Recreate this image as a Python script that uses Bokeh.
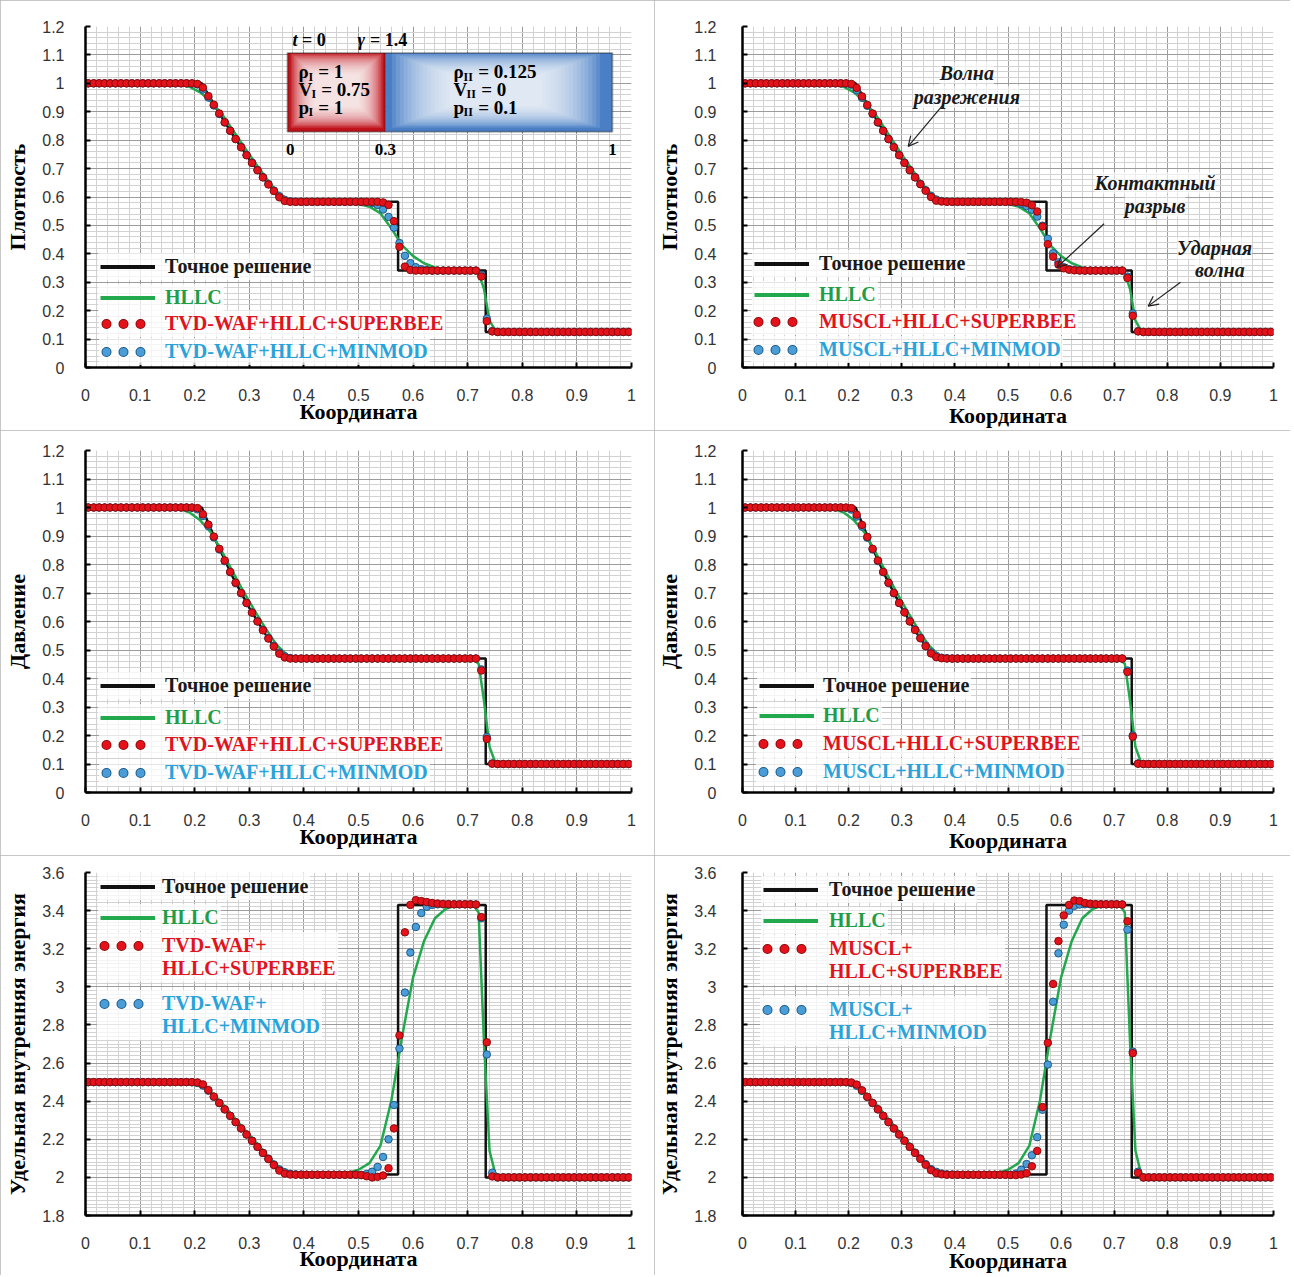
from bokeh.plotting import figure
from bokeh.layouts import column, row
from bokeh.models import (FixedTicker, Legend, LegendItem, Label, Arrow, OpenHead,
                          BoxAnnotation, Range1d)
from bokeh.embed import file_html
from bokeh.resources import INLINE

# ------------------------------------------------------------------ data
X_CELLS = [
    0.005, 0.015, 0.025, 0.035, 0.045, 0.055, 0.065, 0.075, 0.085, 0.095,
    0.105, 0.115, 0.125, 0.135, 0.145, 0.155, 0.165, 0.175, 0.185, 0.195,
    0.205, 0.215, 0.225, 0.235, 0.245, 0.255, 0.265, 0.275, 0.285, 0.295,
    0.305, 0.315, 0.325, 0.335, 0.345, 0.355, 0.365, 0.375, 0.385, 0.395,
    0.405, 0.415, 0.425, 0.435, 0.445, 0.455, 0.465, 0.475, 0.485, 0.495,
    0.505, 0.515, 0.525, 0.535, 0.545, 0.555, 0.565, 0.575, 0.585, 0.595,
    0.605, 0.615, 0.625, 0.635, 0.645, 0.655, 0.665, 0.675, 0.685, 0.695,
    0.705, 0.715, 0.725, 0.735, 0.745, 0.755, 0.765, 0.775, 0.785, 0.795,
    0.805, 0.815, 0.825, 0.835, 0.845, 0.855, 0.865, 0.875, 0.885, 0.895,
    0.905, 0.915, 0.925, 0.935, 0.945, 0.955, 0.965, 0.975, 0.985, 0.995]

EXACT_X = [0.0, 0.213, 0.24, 0.27, 0.30, 0.33, 0.361, 0.5725, 0.5725, 0.733, 0.733, 1.0]
RHO_EXACT = [1.0, 1.0, 0.910, 0.818, 0.733, 0.656, 0.583, 0.583, 0.341, 0.341, 0.125, 0.125]
P_EXACT = [1.0, 1.0, 0.877, 0.755, 0.648, 0.554, 0.470, 0.470, 0.470, 0.470, 0.100, 0.100]
E_EXACT = [2.5, 2.5, 2.408, 2.307, 2.208, 2.112, 2.015, 2.015, 3.430, 3.430, 2.000, 2.000]

HLLC_X = [0.0, 0.15, 0.17, 0.19, 0.21, 0.23, 0.25, 0.27, 0.29, 0.31, 0.33, 0.35,
          0.37, 0.39, 0.41, 0.46, 0.48, 0.50, 0.52, 0.54, 0.56, 0.58, 0.60, 0.62,
          0.64, 0.66, 0.68, 0.70, 0.71, 0.72, 0.73, 0.74, 0.75, 0.76, 1.0]
RHO_HLLC = [1.0, 1.0, 0.997, 0.988, 0.968, 0.935, 0.892, 0.835, 0.778, 0.722, 0.669, 0.619,
            0.593, 0.585, 0.583, 0.583, 0.581, 0.575, 0.566, 0.543, 0.490, 0.430, 0.392, 0.367,
            0.352, 0.345, 0.342, 0.341, 0.340, 0.333, 0.275, 0.165, 0.132, 0.126, 0.125]
P_HLLC = [1.0, 1.0, 0.996, 0.983, 0.955, 0.912, 0.845, 0.773, 0.703, 0.637, 0.575, 0.518,
          0.482, 0.473, 0.471, 0.470, 0.470, 0.470, 0.470, 0.470, 0.470, 0.470, 0.470, 0.470,
          0.470, 0.470, 0.470, 0.470, 0.468, 0.452, 0.320, 0.160, 0.108, 0.101, 0.100]
E_HLLC = [2.5, 2.5, 2.498, 2.492, 2.478, 2.447, 2.390, 2.322, 2.256, 2.190, 2.125, 2.065,
          2.032, 2.018, 2.015, 2.016, 2.022, 2.040, 2.075, 2.165, 2.400, 2.740, 3.050, 3.240,
          3.360, 3.410, 3.428, 3.433, 3.433, 3.390, 2.700, 2.140, 2.025, 2.003, 2.000]

# density, TVD-WAF
RHO_WAF_SB = [
    1.0, 1.0, 1.0, 1.0, 1.0, 1.0, 1.0, 1.0, 1.0, 1.0,
    1.0, 1.0, 1.0, 1.0, 1.0, 1.0, 1.0, 1.0, 1.0, 1.0,
    0.998, 0.985, 0.955, 0.925, 0.894, 0.863, 0.833, 0.804, 0.775, 0.747,
    0.720, 0.694, 0.669, 0.644, 0.621, 0.599, 0.586, 0.583, 0.583, 0.583,
    0.583, 0.583, 0.583, 0.583, 0.583, 0.583, 0.583, 0.583, 0.583, 0.583,
    0.583, 0.583, 0.583, 0.583, 0.581, 0.572, 0.515, 0.425, 0.355, 0.343,
    0.341, 0.341, 0.341, 0.341, 0.341, 0.341, 0.341, 0.341, 0.341, 0.341,
    0.341, 0.341, 0.320, 0.163, 0.127, 0.125, 0.125, 0.125, 0.125, 0.125,
    0.125, 0.125, 0.125, 0.125, 0.125, 0.125, 0.125, 0.125, 0.125, 0.125,
    0.125, 0.125, 0.125, 0.125, 0.125, 0.125, 0.125, 0.125, 0.125, 0.125]
RHO_WAF_MM = [
    1.0, 1.0, 1.0, 1.0, 1.0, 1.0, 1.0, 1.0, 1.0, 1.0,
    1.0, 1.0, 1.0, 1.0, 1.0, 1.0, 1.0, 1.0, 1.0, 0.999,
    0.996, 0.978, 0.950, 0.922, 0.892, 0.862, 0.833, 0.804, 0.776, 0.748,
    0.721, 0.695, 0.670, 0.646, 0.623, 0.603, 0.590, 0.585, 0.583, 0.583,
    0.583, 0.583, 0.583, 0.583, 0.583, 0.583, 0.583, 0.583, 0.583, 0.583,
    0.583, 0.582, 0.579, 0.572, 0.556, 0.530, 0.492, 0.438, 0.393, 0.367,
    0.353, 0.346, 0.343, 0.341, 0.341, 0.341, 0.341, 0.341, 0.341, 0.341,
    0.341, 0.341, 0.325, 0.172, 0.128, 0.125, 0.125, 0.125, 0.125, 0.125,
    0.125, 0.125, 0.125, 0.125, 0.125, 0.125, 0.125, 0.125, 0.125, 0.125,
    0.125, 0.125, 0.125, 0.125, 0.125, 0.125, 0.125, 0.125, 0.125, 0.125]
# density, MUSCL
RHO_MU_SB = [
    1.0, 1.0, 1.0, 1.0, 1.0, 1.0, 1.0, 1.0, 1.0, 1.0,
    1.0, 1.0, 1.0, 1.0, 1.0, 1.0, 1.0, 1.0, 1.0, 1.0,
    0.998, 0.984, 0.954, 0.924, 0.894, 0.863, 0.833, 0.804, 0.775, 0.747,
    0.720, 0.694, 0.669, 0.645, 0.622, 0.600, 0.587, 0.584, 0.583, 0.583,
    0.583, 0.583, 0.583, 0.583, 0.583, 0.583, 0.583, 0.583, 0.583, 0.583,
    0.583, 0.583, 0.582, 0.580, 0.571, 0.549, 0.496, 0.434, 0.390, 0.362,
    0.349, 0.344, 0.342, 0.341, 0.341, 0.341, 0.341, 0.341, 0.341, 0.341,
    0.341, 0.341, 0.315, 0.182, 0.127, 0.125, 0.125, 0.125, 0.125, 0.125,
    0.125, 0.125, 0.125, 0.125, 0.125, 0.125, 0.125, 0.125, 0.125, 0.125,
    0.125, 0.125, 0.125, 0.125, 0.125, 0.125, 0.125, 0.125, 0.125, 0.125]
RHO_MU_MM = [
    1.0, 1.0, 1.0, 1.0, 1.0, 1.0, 1.0, 1.0, 1.0, 1.0,
    1.0, 1.0, 1.0, 1.0, 1.0, 1.0, 1.0, 1.0, 1.0, 0.999,
    0.995, 0.976, 0.949, 0.921, 0.892, 0.862, 0.833, 0.804, 0.776, 0.748,
    0.721, 0.695, 0.670, 0.646, 0.624, 0.604, 0.591, 0.586, 0.584, 0.583,
    0.583, 0.583, 0.583, 0.583, 0.583, 0.583, 0.583, 0.583, 0.583, 0.583,
    0.583, 0.582, 0.576, 0.568, 0.555, 0.531, 0.499, 0.453, 0.402, 0.370,
    0.353, 0.346, 0.343, 0.342, 0.341, 0.341, 0.341, 0.341, 0.341, 0.341,
    0.341, 0.341, 0.320, 0.190, 0.128, 0.125, 0.125, 0.125, 0.125, 0.125,
    0.125, 0.125, 0.125, 0.125, 0.125, 0.125, 0.125, 0.125, 0.125, 0.125,
    0.125, 0.125, 0.125, 0.125, 0.125, 0.125, 0.125, 0.125, 0.125, 0.125]

# pressure, TVD-WAF
P_WAF_SB = [
    1.0, 1.0, 1.0, 1.0, 1.0, 1.0, 1.0, 1.0, 1.0, 1.0,
    1.0, 1.0, 1.0, 1.0, 1.0, 1.0, 1.0, 1.0, 1.0, 1.0,
    0.998, 0.976, 0.940, 0.898, 0.855, 0.814, 0.774, 0.736, 0.700, 0.665,
    0.631, 0.600, 0.569, 0.540, 0.512, 0.487, 0.474, 0.470, 0.470, 0.470,
    0.470, 0.470, 0.470, 0.470, 0.470, 0.470, 0.470, 0.470, 0.470, 0.470,
    0.470, 0.470, 0.470, 0.470, 0.470, 0.470, 0.470, 0.470, 0.470, 0.470,
    0.470, 0.470, 0.470, 0.470, 0.470, 0.470, 0.470, 0.470, 0.470, 0.470,
    0.470, 0.470, 0.428, 0.188, 0.101, 0.100, 0.100, 0.100, 0.100, 0.100,
    0.100, 0.100, 0.100, 0.100, 0.100, 0.100, 0.100, 0.100, 0.100, 0.100,
    0.100, 0.100, 0.100, 0.100, 0.100, 0.100, 0.100, 0.100, 0.100, 0.100]
P_WAF_MM = [
    1.0, 1.0, 1.0, 1.0, 1.0, 1.0, 1.0, 1.0, 1.0, 1.0,
    1.0, 1.0, 1.0, 1.0, 1.0, 1.0, 1.0, 1.0, 1.0, 0.999,
    0.994, 0.970, 0.935, 0.895, 0.853, 0.812, 0.773, 0.735, 0.699, 0.665,
    0.632, 0.601, 0.571, 0.542, 0.515, 0.491, 0.478, 0.472, 0.470, 0.470,
    0.470, 0.470, 0.470, 0.470, 0.470, 0.470, 0.470, 0.470, 0.470, 0.470,
    0.470, 0.470, 0.470, 0.470, 0.470, 0.470, 0.470, 0.470, 0.470, 0.470,
    0.470, 0.470, 0.470, 0.470, 0.470, 0.470, 0.470, 0.470, 0.470, 0.470,
    0.470, 0.470, 0.432, 0.195, 0.102, 0.100, 0.100, 0.100, 0.100, 0.100,
    0.100, 0.100, 0.100, 0.100, 0.100, 0.100, 0.100, 0.100, 0.100, 0.100,
    0.100, 0.100, 0.100, 0.100, 0.100, 0.100, 0.100, 0.100, 0.100, 0.100]
# pressure, MUSCL
P_MU_SB = [
    1.0, 1.0, 1.0, 1.0, 1.0, 1.0, 1.0, 1.0, 1.0, 1.0,
    1.0, 1.0, 1.0, 1.0, 1.0, 1.0, 1.0, 1.0, 1.0, 1.0,
    0.998, 0.975, 0.939, 0.897, 0.855, 0.814, 0.774, 0.736, 0.700, 0.665,
    0.632, 0.600, 0.570, 0.541, 0.513, 0.488, 0.475, 0.471, 0.470, 0.470,
    0.470, 0.470, 0.470, 0.470, 0.470, 0.470, 0.470, 0.470, 0.470, 0.470,
    0.470, 0.470, 0.470, 0.470, 0.470, 0.470, 0.470, 0.470, 0.470, 0.470,
    0.470, 0.470, 0.470, 0.470, 0.470, 0.470, 0.470, 0.470, 0.470, 0.470,
    0.470, 0.470, 0.423, 0.196, 0.101, 0.100, 0.100, 0.100, 0.100, 0.100,
    0.100, 0.100, 0.100, 0.100, 0.100, 0.100, 0.100, 0.100, 0.100, 0.100,
    0.100, 0.100, 0.100, 0.100, 0.100, 0.100, 0.100, 0.100, 0.100, 0.100]
P_MU_MM = [
    1.0, 1.0, 1.0, 1.0, 1.0, 1.0, 1.0, 1.0, 1.0, 1.0,
    1.0, 1.0, 1.0, 1.0, 1.0, 1.0, 1.0, 1.0, 1.0, 0.999,
    0.993, 0.968, 0.933, 0.894, 0.853, 0.812, 0.773, 0.735, 0.699, 0.665,
    0.633, 0.602, 0.572, 0.543, 0.516, 0.492, 0.479, 0.473, 0.471, 0.470,
    0.470, 0.470, 0.470, 0.470, 0.470, 0.470, 0.470, 0.470, 0.470, 0.470,
    0.470, 0.470, 0.470, 0.470, 0.470, 0.470, 0.470, 0.470, 0.470, 0.470,
    0.470, 0.470, 0.470, 0.470, 0.470, 0.470, 0.470, 0.470, 0.470, 0.470,
    0.470, 0.470, 0.428, 0.200, 0.102, 0.100, 0.100, 0.100, 0.100, 0.100,
    0.100, 0.100, 0.100, 0.100, 0.100, 0.100, 0.100, 0.100, 0.100, 0.100,
    0.100, 0.100, 0.100, 0.100, 0.100, 0.100, 0.100, 0.100, 0.100, 0.100]

# specific internal energy, TVD-WAF
E_WAF_SB = [
    2.5, 2.5, 2.5, 2.5, 2.5, 2.5, 2.5, 2.5, 2.5, 2.5,
    2.5, 2.5, 2.5, 2.5, 2.5, 2.5, 2.5, 2.5, 2.5, 2.5,
    2.498, 2.488, 2.458, 2.424, 2.391, 2.357, 2.323, 2.290, 2.257, 2.225,
    2.192, 2.160, 2.128, 2.096, 2.065, 2.036, 2.020, 2.015, 2.014, 2.014,
    2.014, 2.014, 2.014, 2.014, 2.014, 2.014, 2.014, 2.014, 2.014, 2.014,
    2.012, 2.006, 2.000, 2.003, 2.010, 2.048, 2.257, 2.745, 3.286, 3.430,
    3.455, 3.450, 3.445, 3.440, 3.437, 3.435, 3.434, 3.433, 3.433, 3.433,
    3.433, 3.432, 3.366, 2.709, 2.005, 2.000, 2.000, 2.000, 2.000, 2.000,
    2.000, 2.000, 2.000, 2.000, 2.000, 2.000, 2.000, 2.000, 2.000, 2.000,
    2.000, 2.000, 2.000, 2.000, 2.000, 2.000, 2.000, 2.000, 2.000, 2.000]
E_WAF_MM = [
    2.5, 2.5, 2.5, 2.5, 2.5, 2.5, 2.5, 2.5, 2.5, 2.5,
    2.5, 2.5, 2.5, 2.5, 2.5, 2.5, 2.5, 2.5, 2.5, 2.499,
    2.496, 2.482, 2.455, 2.423, 2.390, 2.357, 2.323, 2.290, 2.257, 2.225,
    2.193, 2.161, 2.129, 2.098, 2.068, 2.042, 2.027, 2.019, 2.016, 2.015,
    2.014, 2.014, 2.014, 2.014, 2.014, 2.014, 2.014, 2.014, 2.014, 2.014,
    2.013, 2.018, 2.030, 2.055, 2.107, 2.200, 2.380, 2.676, 2.970, 3.180,
    3.314, 3.387, 3.420, 3.430, 3.433, 3.433, 3.433, 3.433, 3.433, 3.433,
    3.433, 3.432, 3.360, 2.645, 2.025, 2.000, 2.000, 2.000, 2.000, 2.000,
    2.000, 2.000, 2.000, 2.000, 2.000, 2.000, 2.000, 2.000, 2.000, 2.000,
    2.000, 2.000, 2.000, 2.000, 2.000, 2.000, 2.000, 2.000, 2.000, 2.000]
# specific internal energy, MUSCL
E_MU_SB = [
    2.5, 2.5, 2.5, 2.5, 2.5, 2.5, 2.5, 2.5, 2.5, 2.5,
    2.5, 2.5, 2.5, 2.5, 2.5, 2.5, 2.5, 2.5, 2.5, 2.5,
    2.498, 2.487, 2.457, 2.423, 2.391, 2.357, 2.323, 2.290, 2.257, 2.225,
    2.192, 2.160, 2.128, 2.097, 2.066, 2.038, 2.022, 2.016, 2.014, 2.014,
    2.014, 2.014, 2.014, 2.014, 2.014, 2.014, 2.014, 2.014, 2.014, 2.014,
    2.013, 2.012, 2.015, 2.022, 2.058, 2.139, 2.369, 2.706, 3.015, 3.240,
    3.375, 3.430, 3.453, 3.450, 3.440, 3.436, 3.434, 3.433, 3.433, 3.433,
    3.433, 3.432, 3.344, 2.652, 2.023, 2.000, 2.000, 2.000, 2.000, 2.000,
    2.000, 2.000, 2.000, 2.000, 2.000, 2.000, 2.000, 2.000, 2.000, 2.000,
    2.000, 2.000, 2.000, 2.000, 2.000, 2.000, 2.000, 2.000, 2.000, 2.000]
E_MU_MM = [
    2.5, 2.5, 2.5, 2.5, 2.5, 2.5, 2.5, 2.5, 2.5, 2.5,
    2.5, 2.5, 2.5, 2.5, 2.5, 2.5, 2.5, 2.5, 2.5, 2.499,
    2.495, 2.481, 2.454, 2.422, 2.390, 2.357, 2.323, 2.290, 2.257, 2.225,
    2.193, 2.161, 2.130, 2.099, 2.070, 2.044, 2.029, 2.020, 2.016, 2.015,
    2.014, 2.014, 2.014, 2.014, 2.014, 2.014, 2.014, 2.014, 2.014, 2.014,
    2.014, 2.020, 2.040, 2.070, 2.116, 2.211, 2.355, 2.592, 2.922, 3.176,
    3.326, 3.400, 3.425, 3.432, 3.433, 3.433, 3.433, 3.433, 3.433, 3.433,
    3.433, 3.432, 3.300, 2.660, 2.030, 2.000, 2.000, 2.000, 2.000, 2.000,
    2.000, 2.000, 2.000, 2.000, 2.000, 2.000, 2.000, 2.000, 2.000, 2.000,
    2.000, 2.000, 2.000, 2.000, 2.000, 2.000, 2.000, 2.000, 2.000, 2.000]

X_TICKS = [0.0, 0.1, 0.2, 0.3, 0.4, 0.5, 0.6, 0.7, 0.8, 0.9, 1.0]
X_TICK_LABELS = ["0", "0.1", "0.2", "0.3", "0.4", "0.5", "0.6", "0.7", "0.8", "0.9", "1"]
Y_TICKS_A = [0.0, 0.1, 0.2, 0.3, 0.4, 0.5, 0.6, 0.7, 0.8, 0.9, 1.0, 1.1, 1.2]
Y_TICK_LABELS_A = ["0", "0.1", "0.2", "0.3", "0.4", "0.5", "0.6", "0.7", "0.8", "0.9",
                   "1", "1.1", "1.2"]
Y_TICKS_E = [1.8, 2.0, 2.2, 2.4, 2.6, 2.8, 3.0, 3.2, 3.4, 3.6]
Y_TICK_LABELS_E = ["1.8", "2", "2.2", "2.4", "2.6", "2.8", "3", "3.2", "3.4", "3.6"]

X_LABEL = "Координата"
Y_LABELS = ["Плотность", "Давление", "Удельная внутренняя энергия"]
LEG_EXACT = "Точное решение"
LEG_HLLC = "HLLC"

# ------------------------------------------------------------------ style
SERIF = "Liberation Serif"
SANS = "Liberation Sans"
C_EXACT = "#111111"
C_HLLC = "#22a84d"
C_RED = "#e5121b"
C_RED_EDGE = "#8c0a0a"
C_BLUE = "#4a9dd6"
C_BLUE_EDGE = "#1c5a8c"
T_BLACK = "#1a1a1a"
T_GREEN = "#1f9e47"
T_RED = "#e0141e"
T_BLUE = "#2aa2da"
NAN = float("nan")
NB = "\u00a0"


def grid_steps(lo, hi, step):
    n = int(round((hi - lo) / step))
    return [round(lo + i * step, 4) for i in range(n + 1)]


def make_panel(w, h, bl, br, bt, bb, yr, yticks, ylabels, ystep, ylabel,
               ex, hl, sb, mm, ytick_standoff, xlabel_standoff):
    p = figure(width=w, height=h, x_range=Range1d(0, 1), y_range=Range1d(*yr),
               output_backend="svg", toolbar_location=None,
               min_border_left=bl, min_border_right=br,
               min_border_top=bt, min_border_bottom=bb,
               background_fill_color="white", border_fill_color="white",
               styles={"outline": "1px solid #b5b5b5", "outline-offset": "-1px"})
    p.outline_line_color = None
    p.xaxis.ticker = FixedTicker(ticks=X_TICKS, minor_ticks=grid_steps(0, 1, 0.02))
    p.yaxis.ticker = FixedTicker(ticks=yticks, minor_ticks=grid_steps(yr[0], yr[1], ystep))
    p.xaxis.major_label_overrides = {t: l for t, l in zip(X_TICKS, X_TICK_LABELS)}
    p.yaxis.major_label_overrides = {t: l for t, l in zip(yticks, ylabels)}
    for ax in (p.xaxis[0], p.yaxis[0]):
        ax.axis_line_width = 2.5
        ax.axis_line_color = "black"
        ax.major_tick_in = 5
        ax.major_tick_out = 0
        ax.major_tick_line_width = 2
        ax.major_tick_line_color = "black"
        ax.minor_tick_line_color = None
        ax.major_label_text_font = SANS
        ax.major_label_text_font_size = "16px"
        ax.major_label_text_color = "#333333"
        ax.axis_label_text_font = SERIF
        ax.axis_label_text_font_style = "bold"
        ax.axis_label_text_font_size = "22px"
        ax.axis_label_text_color = "black"
    p.xaxis.axis_label = X_LABEL
    p.yaxis.axis_label = ylabel
    p.xaxis.major_label_standoff = 17
    p.xaxis.axis_label_standoff = xlabel_standoff
    p.yaxis.major_label_standoff = ytick_standoff
    p.yaxis.axis_label_standoff = 9
    for g in (p.xgrid[0], p.ygrid[0]):
        g.grid_line_color = "#9c9c9c"
        g.grid_line_width = 1
        g.minor_grid_line_color = "#d2d2d2"
        g.minor_grid_line_width = 1

    p.line(EXACT_X, ex, line_color=C_EXACT, line_width=2.5)
    p.line(HLLC_X, hl, line_color=C_HLLC, line_width=2.5)
    p.scatter(X_CELLS, mm, size=7.5, fill_color=C_BLUE, line_color=C_BLUE_EDGE, line_width=1)
    p.scatter(X_CELLS, sb, size=7.5, fill_color=C_RED, line_color=C_RED_EDGE, line_width=1)
    return p


def proxy(p, **kw):
    # legend-only renderer: a single NaN point, never drawn in the plot area
    return p.line([NAN], [NAN], **kw)


def add_legend(p, fl, fb, gx, gy, labels, color, kind, label_x):
    """gx: start of line glyph / centre of first dot; gy: item centre; label_x: text start"""
    dots = dict(line_dash="0 17", line_dash_offset=12, line_cap="round")
    if kind == "exact":
        rs = [proxy(p, line_color=C_EXACT, line_width=4)]
        gw, g0 = 55, gx
    elif kind == "hllc":
        rs = [proxy(p, line_color=C_HLLC, line_width=4)]
        gw, g0 = 55, gx
    elif kind == "sb":
        rs = [proxy(p, line_color=C_RED_EDGE, line_width=10, **dots),
              proxy(p, line_color=C_RED, line_width=8, **dots)]
        gw, g0 = 45, gx - 5
    else:
        rs = [proxy(p, line_color=C_BLUE_EDGE, line_width=10, **dots),
              proxy(p, line_color=C_BLUE, line_width=8, **dots)]
        gw, g0 = 45, gx - 5
    items = [LegendItem(label=labels[0], renderers=rs)]
    for extra in labels[1:]:
        items.append(LegendItem(label=extra, renderers=[proxy(p, line_alpha=0)]))
    ih, pad, sp = 23, 2, 0
    n = len(items)
    top = (fb - gy) + ih / 2 + pad
    hgt = 2 * pad + n * ih + (n - 1) * sp
    leg = Legend(items=items, location=(g0 - fl - pad, top - hgt),
                 label_text_color=color, label_text_font=SERIF,
                 label_text_font_style="bold", label_text_font_size="20px",
                 glyph_width=gw, glyph_height=ih, label_height=ih,
                 label_standoff=label_x - g0 - gw, padding=pad, spacing=sp, margin=0,
                 border_line_alpha=0, background_fill_color="white",
                 background_fill_alpha=0.75)
    p.add_layout(leg)


# ------------------------------------------------------------------ panels
p1 = make_panel(654, 430, 85, 23, 26, 57, (0, 1.2), Y_TICKS_A, Y_TICK_LABELS_A, 0.02,
                Y_LABELS[0], RHO_EXACT, RHO_HLLC, RHO_WAF_SB, RHO_WAF_MM, 17, -5)
p2 = make_panel(636, 430, 77, 17, 25, 61, (0, 1.2), Y_TICKS_A, Y_TICK_LABELS_A, 0.02,
                Y_LABELS[0], RHO_EXACT, RHO_HLLC, RHO_MU_SB, RHO_MU_MM, 22, -1)
p3 = make_panel(654, 425, 85, 23, 20, 58, (0, 1.2), Y_TICKS_A, Y_TICK_LABELS_A, 0.02,
                Y_LABELS[1], P_EXACT, P_HLLC, P_WAF_SB, P_WAF_MM, 17, -5)
p4 = make_panel(636, 425, 77, 17, 19, 62, (0, 1.2), Y_TICKS_A, Y_TICK_LABELS_A, 0.02,
                Y_LABELS[1], P_EXACT, P_HLLC, P_MU_SB, P_MU_MM, 22, -1)
p5 = make_panel(654, 420, 85, 23, 17, 55, (1.8, 3.6), Y_TICKS_E, Y_TICK_LABELS_E, 0.02,
                Y_LABELS[2], E_EXACT, E_HLLC, E_WAF_SB, E_WAF_MM, 17, -6)
p6 = make_panel(636, 420, 77, 17, 15, 58, (1.8, 3.6), Y_TICKS_E, Y_TICK_LABELS_E, 0.02,
                Y_LABELS[2], E_EXACT, E_HLLC, E_MU_SB, E_MU_MM, 22, -4)

# legends: (glyph x, item centre y, text x) in page pixels
WAF_SB = "TVD-WAF+HLLC+SUPERBEE"
WAF_MM = "TVD-WAF+HLLC+MINMOD"
MU_SB = "MUSCL+HLLC+SUPERBEE"
MU_MM = "MUSCL+HLLC+MINMOD"

add_legend(p1, 85, 373, 100, 272, [LEG_EXACT], T_BLACK, "exact", 165)
add_legend(p1, 85, 373, 100, 303, [LEG_HLLC], T_GREEN, "hllc", 165)
add_legend(p1, 85, 373, 106, 329, [WAF_SB], T_RED, "sb", 165)
add_legend(p1, 85, 373, 106, 357, [WAF_MM], T_BLUE, "mm", 165)

add_legend(p2, 731, 369, 743, 265, [LEG_EXACT], T_BLACK, "exact", 808)
add_legend(p2, 731, 369, 743, 296, [LEG_HLLC], T_GREEN, "hllc", 808)
add_legend(p2, 731, 369, 747, 323, [MU_SB], T_RED, "sb", 808)
add_legend(p2, 731, 369, 747, 351, [MU_MM], T_BLUE, "mm", 808)

add_legend(p3, 85, 797, 100, 690, [LEG_EXACT], T_BLACK, "exact", 165)
add_legend(p3, 85, 797, 100, 722, [LEG_HLLC], T_GREEN, "hllc", 165)
add_legend(p3, 85, 797, 106, 749, [WAF_SB], T_RED, "sb", 165)
add_legend(p3, 85, 797, 106, 777, [WAF_MM], T_BLUE, "mm", 165)

add_legend(p4, 731, 793, 748, 686, [LEG_EXACT], T_BLACK, "exact", 812)
add_legend(p4, 731, 793, 748, 716, [LEG_HLLC], T_GREEN, "hllc", 812)
add_legend(p4, 731, 793, 752, 744, [MU_SB], T_RED, "sb", 812)
add_legend(p4, 731, 793, 752, 772, [MU_MM], T_BLUE, "mm", 812)

add_legend(p5, 85, 1220, 100, 891, [LEG_EXACT], T_BLACK, "exact", 162)
add_legend(p5, 85, 1220, 100, 922, [LEG_HLLC], T_GREEN, "hllc", 162)
add_legend(p5, 85, 1220, 104, 950, ["TVD-WAF+", "HLLC+SUPERBEE"], T_RED, "sb", 162)
add_legend(p5, 85, 1220, 104, 1008, ["TVD-WAF+", "HLLC+MINMOD"], T_BLUE, "mm", 162)

add_legend(p6, 731, 1217, 752, 891, [LEG_EXACT], T_BLACK, "exact", 818)
add_legend(p6, 731, 1217, 752, 922, [LEG_HLLC], T_GREEN, "hllc", 818)
add_legend(p6, 731, 1217, 756, 950, ["MUSCL+", "HLLC+SUPERBEE"], T_RED, "sb", 818)
add_legend(p6, 731, 1217, 756, 1011, ["MUSCL+", "HLLC+MINMOD"], T_BLUE, "mm", 818)

# ------------------------------------------------------------------ inset (initial state sketch)
PXX = 1.0 / 546.0      # data units per pixel, x (left column)
PXY = 1.2 / 347.0      # data units per pixel, y (top-left panel)
BOX_L, BOX_M, BOX_R, BOX_T, BOX_B = 0.370, 0.549, 0.965, 1.107, 0.830

p1.add_layout(BoxAnnotation(left=BOX_L, right=BOX_M, top=BOX_T, bottom=BOX_B,
                            fill_color="#c0121a", fill_alpha=1.0, line_alpha=0))
p1.add_layout(BoxAnnotation(left=BOX_M, right=BOX_R, top=BOX_T, bottom=BOX_B,
                            fill_color="#4a7fc6", fill_alpha=1.0, line_alpha=0))
N_GLOW = 16
for k in range(N_GLOW):
    f = k / (N_GLOW - 1)
    hw_r, hh_r = (46 - 24 * f) * PXX, (38 - 22 * f) * PXY
    cx_r, cy_r = 0.460, 0.975
    p1.add_layout(BoxAnnotation(left=cx_r - hw_r, right=cx_r + hw_r, top=cy_r + hh_r,
                                bottom=cy_r - hh_r, fill_color="white", fill_alpha=0.13,
                                line_alpha=0))
    hw_b, hh_b = (104 - 58 * f) * PXX, (38 - 22 * f) * PXY
    cx_b, cy_b = 0.752, 0.975
    p1.add_layout(BoxAnnotation(left=cx_b - hw_b, right=cx_b + hw_b, top=cy_b + hh_b,
                                bottom=cy_b - hh_b, fill_color="white", fill_alpha=0.11,
                                line_alpha=0))
p1.add_layout(BoxAnnotation(left=BOX_L, right=BOX_R, top=BOX_T, bottom=BOX_B,
                            fill_alpha=0, line_color="black", line_width=2))
p1.add_layout(BoxAnnotation(left=BOX_M, right=BOX_M, top=BOX_T, bottom=BOX_B,
                            fill_alpha=0, line_color="black", line_width=1.5))


def lab(p, x, y, text, size="19px", style="bold", dx=0, dy=0, align="left", color="black"):
    p.add_layout(Label(x=x, y=y, text=text, x_offset=dx, y_offset=dy,
                       text_font=SERIF, text_font_style=style, text_font_size=size,
                       text_color=color, text_align=align, text_baseline="middle"))


INSET_LEFT = [("ρ", "I", NB + "= 1"), ("V", "I", NB + "= 0.75"), ("p", "I", NB + "= 1")]
INSET_RIGHT = [("ρ", "II", NB + "= 0.125"), ("V", "II", NB + "= 0"), ("p", "II", NB + "= 0.1")]
SYM_W = {"ρ": 10, "V": 13, "p": 10}
SUB_W = {"I": 5, "II": 10}
ROW_Y = [1.041, 0.979, 0.916]
for xs, rows in ((0.390, INSET_LEFT), (0.674, INSET_RIGHT)):
    for (sym, sub, rest), yy in zip(rows, ROW_Y):
        lab(p1, xs, yy, sym)
        lab(p1, xs, yy, sub, size="12px", dx=SYM_W[sym], dy=-5)
        lab(p1, xs, yy, rest, dx=SYM_W[sym] + SUB_W[sub])

lab(p1, 0.379, 1.151, "t", style="bold italic", size="18px")
lab(p1, 0.379, 1.151, NB + "= 0", dx=5, size="18px")
lab(p1, 0.498, 1.151, "γ", style="bold italic", size="18px")
lab(p1, 0.498, 1.151, NB + "= 1.4", dx=8, size="18px")
for xx, tt in ((0.375, "0"), (0.549, "0.3"), (0.965, "1")):
    lab(p1, xx, 0.768, tt, size="17px", align="center")

# ------------------------------------------------------------------ wave annotations (top right)
ANN = [("Волна", 0.4225, 1.036), ("разрежения", 0.4225, 0.952),
       ("Контактный", 0.777, 0.649), ("разрыв", 0.777, 0.569),
       ("Ударная", 0.889, 0.419), ("волна", 0.899, 0.342)]
for t, xx, yy in ANN:
    p2.add_layout(Label(x=xx, y=yy, text=t, text_font=SERIF, text_font_style="bold italic",
                        text_font_size="20px", text_color="#1a1a1a", text_align="center",
                        text_baseline="middle", background_fill_color="white",
                        background_fill_alpha=0.6))
ARROWS = [(0.376, 0.921, 0.312, 0.778), (0.681, 0.506, 0.592, 0.352), (0.825, 0.300, 0.764, 0.216)]
for xs, ys, xe, ye in ARROWS:
    p2.add_layout(Arrow(x_start=xs, y_start=ys, x_end=xe, y_end=ye, line_width=1.2,
                        line_color="#222222",
                        end=OpenHead(size=10, line_width=1.2, line_color="#222222")))

layout = column(row(p1, p2), row(p3, p4), row(p5, p6))
with open("out.html", "w") as f:
    f.write(file_html(layout, INLINE))
